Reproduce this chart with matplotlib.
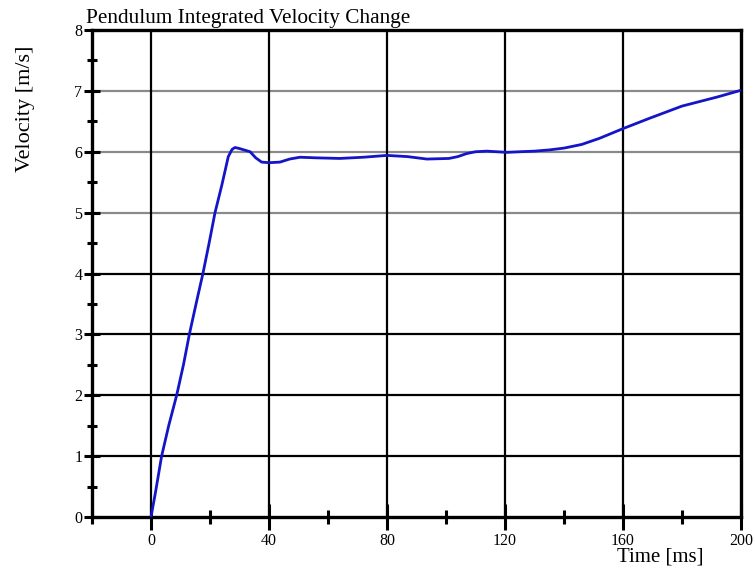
import matplotlib
matplotlib.use("Agg")
import matplotlib.pyplot as plt
import numpy as np

# Data
time_ms = [0, 1.5, 3.6, 6, 8.7, 11, 13, 15.5, 17.6, 19.7, 21.7, 24, 26.2, 27.5, 28.5, 30.2,
           33.6, 35.5, 37.5, 40, 43.7, 47, 50.5, 56, 64, 72, 80, 87, 93.5, 101, 104, 107,
           110, 113.8, 120.6, 125, 130, 135, 140, 146, 152, 160, 169, 180, 192, 200]
velocity = [0, 0.4, 1.0, 1.5, 2.0, 2.5, 3.0, 3.55, 4.0, 4.5, 5.0, 5.45, 5.92, 6.04, 6.07, 6.05,
            6.0, 5.9, 5.83, 5.82, 5.83, 5.88, 5.91, 5.9, 5.89, 5.91, 5.94, 5.92, 5.88, 5.89,
            5.92, 5.97, 6.0, 6.01, 5.99, 6.0, 6.01, 6.03, 6.06, 6.12, 6.22, 6.38, 6.55, 6.75,
            6.9, 7.01]

x_major = [0, 40, 80, 120, 160, 200]
x_minor = [-20, 20, 60, 100, 140, 180]
y_major = [0, 1, 2, 3, 4, 5, 6, 7, 8]
y_minor = [0.5, 1.5, 2.5, 3.5, 4.5, 5.5, 6.5, 7.5]
grid_dark_y = [1, 2, 3, 4]
grid_grey_y = [5, 6, 7]
grid_x = [0, 40, 80, 120, 160]

title = "Pendulum Integrated Velocity Change"
xlabel = "Time [ms]"
ylabel = "Velocity [m/s]"

plt.rcParams['font.family'] = ['Liberation Serif', 'DejaVu Serif']

fig = plt.figure(figsize=(7.55, 5.73), dpi=100)
ax = fig.add_axes([92/755, 1 - 517/573, 649/755, 487/573])
ax.set_xlim(-20, 200)
ax.set_ylim(0, 8)

for yv in grid_dark_y:
    ax.axhline(yv, color='black', lw=1.6, zorder=1)
for yv in grid_grey_y:
    ax.axhline(yv, color='#8a8a8a', lw=1.6, zorder=1)
for xv in grid_x:
    ax.axvline(xv, color='black', lw=1.6, zorder=1)

ax.plot(time_ms, velocity, color='#1414c8', lw=2.0, zorder=3,
        solid_capstyle='round', solid_joinstyle='round')

for s in ax.spines.values():
    s.set_linewidth(2.4)
    s.set_color('black')

ax.set_xticks(x_major)
ax.set_xticks(x_minor, minor=True)
ax.set_yticks(y_major)
ax.set_yticks(y_minor, minor=True)
ax.set_xticklabels([str(v) for v in x_major], fontsize=11.5)
ax.set_yticklabels([str(v) for v in y_major], fontsize=11.5)
ax.tick_params(axis='x', which='major', direction='inout', length=19, width=2.2, pad=2)
ax.tick_params(axis='x', which='minor', direction='inout', length=10, width=2.2)
ax.tick_params(axis='y', which='major', direction='inout', length=12, width=2.2, pad=1)
ax.tick_params(axis='y', which='minor', direction='inout', length=6.5, width=2.2)

ax.text(-0.009, 1.014, title, transform=ax.transAxes, ha='left', va='baseline', fontsize=15.3)
ax.text(0.875, -0.082, xlabel, transform=ax.transAxes, ha='center', va='center', fontsize=15)
ax.text(-0.102, 0.838, ylabel, transform=ax.transAxes, ha='center', va='center',
        rotation=90, fontsize=16)

fig.savefig("out.png", dpi=100)
